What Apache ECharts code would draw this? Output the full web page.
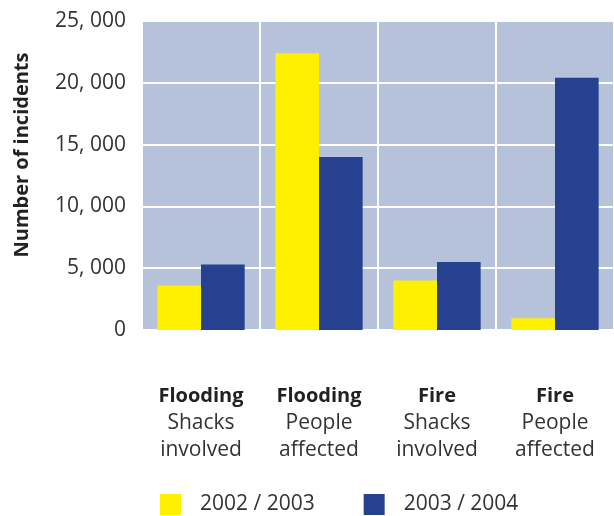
<!DOCTYPE html>
<html>
<head>
<meta charset="utf-8">
<script src="https://cdn.jsdelivr.net/npm/echarts@6/dist/echarts.min.js"></script>
<style>
html,body{margin:0;padding:0;background:#fff;}
#c{width:614px;height:516px;}
</style>
</head>
<body>
<div id="c"></div>
<script>
const categoriesMain = ['Flooding', 'Flooding', 'Fire', 'Fire'];
const categoriesSub = [['Shacks', 'involved'], ['People', 'affected'], ['Shacks', 'involved'], ['People', 'affected']];
const seriesNames = ['2002 / 2003', '2003 / 2004'];
const values2002 = [3600, 22400, 4000, 950];
const values2003 = [5300, 14000, 5500, 20400];
const yTicks = [0, 5000, 10000, 15000, 20000, 25000];

const FONT = 'Open Sans';
const chart = echarts.init(document.getElementById('c'), null, {renderer: 'canvas'});
const cats = categoriesMain.map((m, i) => m + '|' + categoriesSub[i].join('|'));

chart.setOption({
  animation: false,
  textStyle: {fontFamily: FONT},
  grid: {left: 142, right: 0, top: 21, bottom: 186, show: true, backgroundColor: '#b5c2d9', borderWidth: 0},
  legend: {
    left: 160, top: 494, padding: 0,
    itemWidth: 21, itemHeight: 21, itemGap: 49,
    icon: 'rect',
    textStyle: {fontFamily: FONT, fontSize: 21, color: '#333', padding: [0, 0, 0, 14]},
    data: seriesNames
  },
  graphic: [{
    type: 'text', x: 22, y: 155, rotation: Math.PI / 2,
    style: {text: 'Number of incidents', font: 'bold 20px "' + FONT + '"', fill: '#222', textAlign: 'center', textVerticalAlign: 'middle'}
  }],
  xAxis: {
    type: 'category', data: cats,
    axisLine: {show: false}, axisTick: {show: false},
    splitLine: {show: true, lineStyle: {color: '#ffffff', width: 2}},
    axisLabel: {
      margin: 53, interval: 0,
      formatter: v => { const p = v.split('|'); return '{b|' + p[0] + '}\n{n|' + p[1] + '}\n{n|' + p[2] + '}'; },
      rich: {
        b: {fontFamily: FONT, fontSize: 20, fontWeight: 'bold', color: '#222', lineHeight: 27},
        n: {fontFamily: FONT, fontSize: 21, color: '#333', lineHeight: 27}
      }
    }
  },
  yAxis: {
    type: 'value', min: yTicks[0], max: yTicks[yTicks.length - 1], interval: yTicks[1] - yTicks[0],
    axisLine: {show: false}, axisTick: {show: false},
    splitLine: {show: true, lineStyle: {color: '#ffffff', width: 2}},
    axisLabel: {
      margin: 16, fontFamily: FONT, fontSize: 21, color: '#333',
      formatter: v => v === 0 ? '0' : String(v).replace(/(\d+)(\d{3})$/, '$1, $2')
    }
  },
  series: [
    {name: seriesNames[0], type: 'bar', data: values2002, itemStyle: {color: '#fff000'}, barGap: '0%', barCategoryGap: '26%'},
    {name: seriesNames[1], type: 'bar', data: values2003, itemStyle: {color: '#25418f'}, barGap: '0%', barCategoryGap: '26%'}
  ]
});
</script>
</body>
</html>
